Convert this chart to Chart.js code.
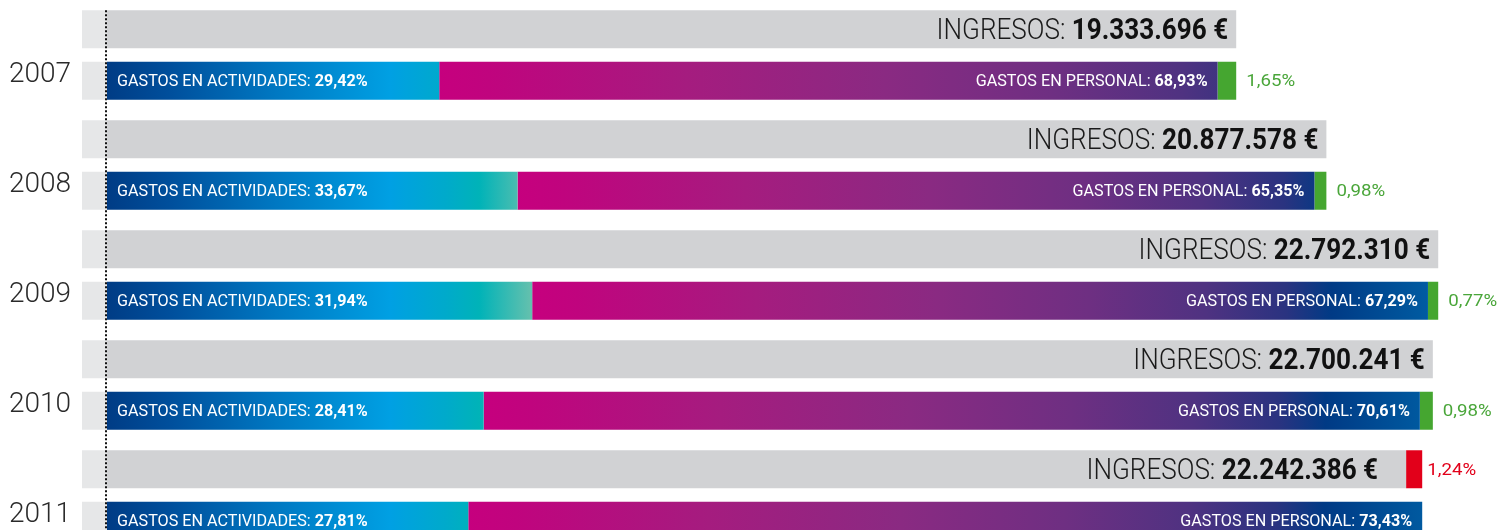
<!DOCTYPE html>
<html>
<head>
<meta charset="utf-8">
<script src="https://cdn.jsdelivr.net/npm/chart.js@4.4.1/dist/chart.umd.min.js"></script>
<style>
  html, body { margin: 0; padding: 0; background: #fff; overflow: hidden; }
  #wrap { width: 1507px; height: 530px; overflow: hidden; }
</style>
</head>
<body>
<div id="wrap"><canvas id="gastosChart" width="1507" height="550"></canvas></div>
<script>
// datos
const anios = ['2007', '2008', '2009', '2010', '2011'];
const ingresos = [19333696, 20877578, 22792310, 22700241, 22242386];
const pctActividades = [29.42, 33.67, 31.94, 28.41, 27.81];
const pctPersonal = [68.93, 65.35, 67.29, 70.61, 73.43];
const pctSaldo = [1.65, 0.98, 0.77, 0.98, -1.24];
const ejeMax = 23970000;

const actividades = ingresos.map((v, i) => v * pctActividades[i] / 100);
const personal = ingresos.map((v, i) => v * pctPersonal[i] / 100);
const superavit = ingresos.map((v, i) => pctSaldo[i] > 0 ? v * pctSaldo[i] / 100 : 0);
const deficit = ingresos.map((v, i) => pctSaldo[i] < 0 ? -v * pctSaldo[i] / 100 : 0);

const fmtEuros = v => String(v).replace(/\B(?=(\d{3})+(?!\d))/g, '.') + ' €';
const fmtPct = v => Math.abs(v).toFixed(2).replace('.', ',') + '%';

function gradActividades(c) {
  const { ctx, chartArea } = c.chart;
  if (!chartArea) return '#0078c2';
  const g = ctx.createLinearGradient(chartArea.left, 0, chartArea.left + 423, 0);
  g.addColorStop(0, '#003c85');
  g.addColorStop(0.15, '#004f9c');
  g.addColorStop(0.4, '#0078c2');
  g.addColorStop(0.67, '#00a0e3');
  g.addColorStop(0.8, '#00aacb');
  g.addColorStop(0.88, '#00b3b8');
  g.addColorStop(1, '#62c0ae');
  return g;
}

function gradPersonal(c) {
  const { ctx, chartArea, scales } = c.chart;
  if (!chartArea) return '#8a2a82';
  const x0 = scales.x.getPixelForValue(actividades[c.dataIndex]);
  const x1 = chartArea.left + 1323;
  const g = ctx.createLinearGradient(x0, 0, x1, 0);
  g.addColorStop(0, '#c6007e');
  g.addColorStop(0.05, '#c0047e');
  g.addColorStop(0.25, '#a51c7f');
  g.addColorStop(0.45, '#8a2a82');
  g.addColorStop(0.62, '#6e2f82');
  g.addColorStop(0.75, '#4f3281');
  g.addColorStop(0.84, '#2a3380');
  g.addColorStop(0.89, '#003a85');
  g.addColorStop(1, '#005ca2');
  return g;
}

// texto en varias partes, con escala horizontal
function textoPartes(ctx, partes, x, y, align, sx) {
  let ancho = 0;
  partes.forEach(p => { ctx.font = p.font; ancho += ctx.measureText(p.text).width; });
  let inicio = align === 'right' ? x - ancho * sx : x;
  ctx.save();
  ctx.translate(inicio, y);
  ctx.scale(sx, 1);
  ctx.textBaseline = 'middle';
  ctx.textAlign = 'left';
  let cx = 0;
  partes.forEach(p => {
    ctx.font = p.font;
    ctx.fillStyle = p.color;
    ctx.fillText(p.text, cx, 0);
    cx += ctx.measureText(p.text).width;
  });
  ctx.restore();
}

const fondoPlugin = {
  id: 'fondo',
  beforeDatasetsDraw(chart) {
    const ctx = chart.ctx;
    const x0 = chart.scales.x.getPixelForValue(0);
    ctx.save();
    ctx.fillStyle = '#e6e7e8';
    [0, 2].forEach(d => {
      chart.getDatasetMeta(d).data.forEach(el => {
        ctx.fillRect(x0 - 25, el.y - el.height / 2, 25, el.height);
      });
    });
    ctx.restore();
  }
};

const etiquetasPlugin = {
  id: 'etiquetas',
  afterDatasetsDraw(chart) {
    const ctx = chart.ctx;
    const x0 = chart.scales.x.getPixelForValue(0);
    const mIng = chart.getDatasetMeta(0).data;
    const mDef = chart.getDatasetMeta(1).data;
    const mAct = chart.getDatasetMeta(2).data;
    const mPer = chart.getDatasetMeta(3).data;
    const mSup = chart.getDatasetMeta(4).data;

    // linea punteada en el cero
    ctx.save();
    ctx.strokeStyle = '#111';
    ctx.lineWidth = 2;
    ctx.setLineDash([2, 2]);
    ctx.beginPath();
    ctx.moveTo(x0 - 1, mIng[0].y - mIng[0].height / 2);
    ctx.lineTo(x0 - 1, chart.height);
    ctx.stroke();
    ctx.restore();

    anios.forEach((a, i) => {
      const ing = mIng[i], act = mAct[i], per = mPer[i];
      const extra = deficit[i] > 0 ? 20 : 0;
      textoPartes(ctx, [
        { text: 'INGRESOS: ', font: '300 29px Roboto', color: '#1a1a1a' },
        { text: fmtEuros(ingresos[i]), font: 'bold 29px Roboto', color: '#111' }
      ], ing.x - 8 - extra, ing.y + 2, 'right', 0.9);

      textoPartes(ctx, [
        { text: 'GASTOS EN ACTIVIDADES: ', font: '16px Roboto', color: '#fff' },
        { text: fmtPct(pctActividades[i]), font: 'bold 16px Roboto', color: '#fff' }
      ], act.base + 10, act.y + 1, 'left', 1.01);

      textoPartes(ctx, [
        { text: 'GASTOS EN PERSONAL: ', font: '16px Roboto', color: '#fff' },
        { text: fmtPct(pctPersonal[i]), font: 'bold 16px Roboto', color: '#fff' }
      ], per.x - 10, per.y + 1, 'right', 1.01);

      if (pctSaldo[i] > 0) {
        const s = mSup[i];
        textoPartes(ctx, [{ text: fmtPct(pctSaldo[i]), font: '17px Roboto', color: '#4aa63a' }],
          s.x + 10, s.y + 1, 'left', 1.1);
      } else {
        const d = mDef[i];
        textoPartes(ctx, [{ text: fmtPct(pctSaldo[i]), font: '17px Roboto', color: '#e2001a' }],
          d.x + 5, d.y + 1, 'left', 1.1);
      }
    });
  }
};

const comun = { borderWidth: 0, categoryPercentage: 0.936, barPercentage: 0.738 };

new Chart(document.getElementById('gastosChart'), {
  type: 'bar',
  data: {
    labels: anios,
    datasets: [
      { label: 'Ingresos', data: ingresos, stack: 'ing', backgroundColor: '#d1d2d4', ...comun },
      { label: 'Déficit', data: deficit, stack: 'ing', backgroundColor: '#e2001a', ...comun },
      { label: 'Gastos en actividades', data: actividades, stack: 'gas', backgroundColor: gradActividades, ...comun },
      { label: 'Gastos en personal', data: personal, stack: 'gas', backgroundColor: gradPersonal, ...comun },
      { label: 'Superávit', data: superavit, stack: 'gas', backgroundColor: '#45a630', ...comun }
    ]
  },
  options: {
    indexAxis: 'y',
    responsive: false,
    animation: false,
    devicePixelRatio: 1,
    layout: { padding: 0, autoPadding: false },
    plugins: { legend: { display: false }, tooltip: { enabled: false } },
    scales: {
      x: { type: 'linear', min: 0, max: ejeMax, stacked: true, display: false },
      y: {
        stacked: true,
        grid: { display: false, drawTicks: false },
        border: { display: false },
        afterFit(scale) {
          scale.width = 107;
          scale.paddingTop = 0;
          scale.paddingBottom = 0;
        },
        ticks: {
          padding: 36,
          labelOffset: 20,
          color: '#2a2a2a',
          font: { family: 'Roboto', size: 28, weight: 300 }
        }
      }
    }
  },
  plugins: [fondoPlugin, etiquetasPlugin]
});
</script>
</body>
</html>
